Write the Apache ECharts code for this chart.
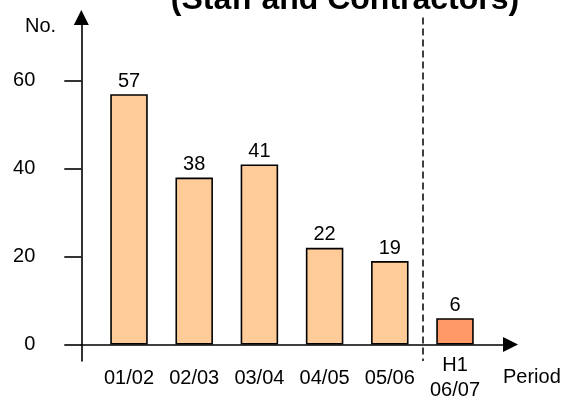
<!DOCTYPE html>
<html>
<head>
<meta charset="utf-8">
<style>
  html, body { margin: 0; padding: 0; background: #fff; }
  #chart { width: 564px; height: 403px; }
</style>
<script src="https://cdn.jsdelivr.net/npm/echarts@6/dist/echarts.min.js"></script>
</head>
<body>
<div id="chart"></div>
<script>
// Headcount per period (staff and contractors)
const periods = ['01/02', '02/03', '03/04', '04/05', '05/06', 'H1\n06/07'];
const headcount = [57, 38, 41, 22, 19, 6];
const yTicks = [0, 20, 40, 60];

const FONT = '"Liberation Sans", Arial, sans-serif';
const fullYearColor = '#FFCC99';
const partYearColor = '#FF9966';

// Shared vertical range so both grids line up exactly
const yMin = -3.76;
const yMax = 74.45;
const gridTop = 17.5;
const gridBottom = 42;

const chart = echarts.init(document.getElementById('chart'), null, { renderer: 'canvas' });

chart.setOption({
  animation: false,
  backgroundColor: '#ffffff',
  textStyle: { fontFamily: FONT },
  grid: [
    // bars
    { left: 96.4, right: 76.4, top: gridTop, bottom: gridBottom, outerBoundsMode: 'none', containLabel: false },
    // arrowed axes
    { left: 81.3, right: 53.5, top: gridTop, bottom: gridBottom, outerBoundsMode: 'none', containLabel: false }
  ],
  xAxis: [
    {
      type: 'category',
      gridIndex: 0,
      data: periods,
      boundaryGap: true,
      axisLine: { show: false },
      axisTick: { show: false },
      axisLabel: {
        color: '#000',
        fontSize: 20,
        fontFamily: FONT,
        margin: 17,
        verticalAlign: 'middle',
        lineHeight: 25,
        interval: 0
      },
      // divider before the half-year column (first and last edge lines suppressed)
      splitLine: {
        show: true,
        interval: function (index) { return index === 0 || index === periods.length - 1; },
        showMinLine: false,
        showMaxLine: false,
        lineStyle: { color: '#000', width: 1.5, type: [7, 4] }
      }
    },
    {
      type: 'value',
      gridIndex: 1,
      min: 0,
      max: 1,
      axisLine: {
        show: true,
        onZero: true,
        symbol: ['none', 'triangle'],
        symbolSize: [15, 15],
        lineStyle: { color: '#000', width: 1.6 }
      },
      axisTick: { show: false },
      axisLabel: { show: false },
      splitLine: { show: false }
    }
  ],
  yAxis: [
    {
      type: 'value',
      gridIndex: 0,
      min: yMin,
      max: yMax,
      show: false
    },
    {
      type: 'value',
      gridIndex: 1,
      min: yMin,
      max: yMax,
      axisLine: {
        show: true,
        onZero: false,
        symbol: ['none', 'triangle'],
        symbolSize: [15, 15],
        lineStyle: { color: '#000', width: 1.6 }
      },
      axisTick: {
        show: true,
        inside: false,
        length: 17,
        customValues: yTicks,
        lineStyle: { color: '#000', width: 1.6 }
      },
      axisLabel: {
        show: true,
        customValues: yTicks,
        color: '#000',
        fontSize: 20,
        fontFamily: FONT,
        margin: 46
      },
      splitLine: { show: false }
    }
  ],
  series: [
    {
      type: 'bar',
      xAxisIndex: 0,
      yAxisIndex: 0,
      barWidth: 37.5,
      data: headcount.map(function (v, i) {
        return {
          value: v,
          itemStyle: { color: i === headcount.length - 1 ? partYearColor : fullYearColor }
        };
      }),
      itemStyle: { borderColor: '#000', borderWidth: 1.6 },
      label: {
        show: true,
        position: 'top',
        distance: 3,
        color: '#000',
        fontSize: 20,
        fontFamily: FONT
      }
    },
    {
      type: 'scatter',
      xAxisIndex: 1,
      yAxisIndex: 1,
      data: [],
      silent: true
    }
  ],
  graphic: [
    {
      type: 'text',
      left: 25,
      top: 16,
      style: { text: 'No.', fill: '#000', font: '20px ' + FONT }
    },
    {
      type: 'text',
      left: 503,
      top: 367,
      style: { text: 'Period', fill: '#000', font: '20px ' + FONT }
    },
    {
      type: 'text',
      x: 345,
      y: 16,
      style: {
        text: '(Staff and Contractors)',
        fill: '#000',
        font: 'bold 32px ' + FONT,
        align: 'center',
        verticalAlign: 'bottom'
      }
    }
  ]
});
</script>
</body>
</html>
